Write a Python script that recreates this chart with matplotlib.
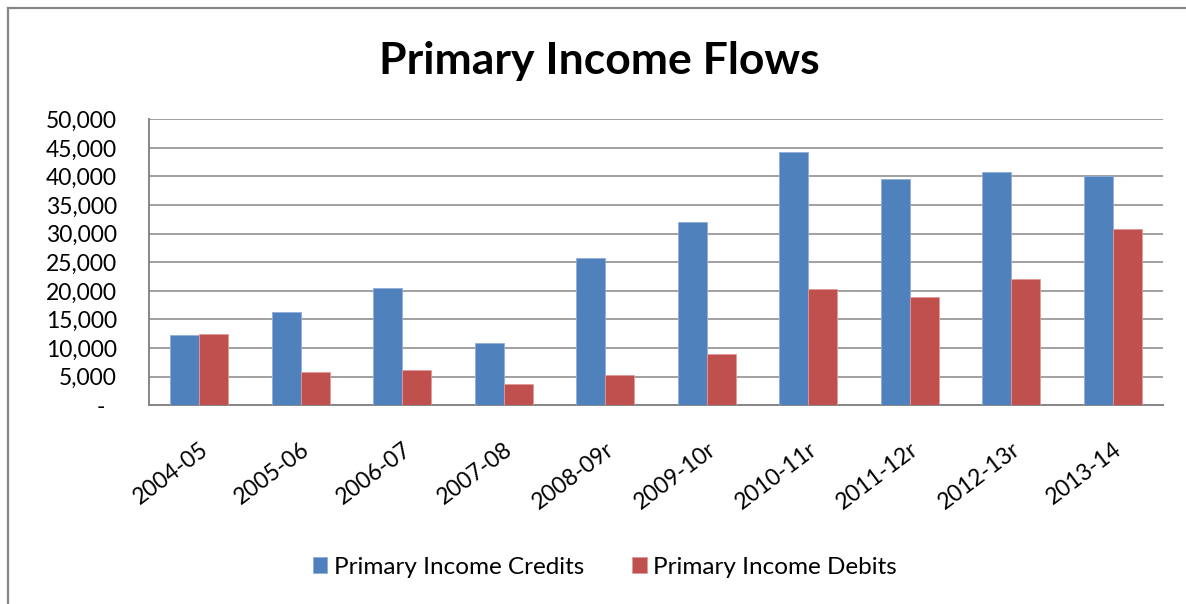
import numpy as np
import matplotlib
matplotlib.use("Agg")
import matplotlib.pyplot as plt
from matplotlib.lines import Line2D
from matplotlib.ticker import FuncFormatter
import matplotlib.transforms as mtransforms

plt.rcParams["font.family"] = ["Lato", "DejaVu Sans"]

# Primary income flows by financial year
years = ["2004-05", "2005-06", "2006-07", "2007-08", "2008-09r",
         "2009-10r", "2010-11r", "2011-12r", "2012-13r", "2013-14"]
credits = [12300, 16300, 20450, 10850, 25800, 32000, 44200, 39500, 40700, 40000]
debits = [12500, 5800, 6100, 3650, 5300, 8900, 20400, 18900, 22000, 30900]

blue = "#4F81BD"
red = "#C0504D"
grid_grey = "#868686"

fig = plt.figure(figsize=(11.86, 6.04), dpi=100)
ax = fig.add_axes([0.1254, 0.329, 0.8555, 0.4735])

x = np.arange(len(years))
w = 0.286
ax.bar(x - w / 2, credits, w, color=blue, edgecolor="#8FAEDA", linewidth=0.6,
       label="Primary Income Credits", zorder=3)
ax.bar(x + w / 2, debits, w, color=red, edgecolor="#E29A98", linewidth=0.6,
       label="Primary Income Debits", zorder=3)

ax.set_xlim(-0.5, len(years) - 0.5)
ax.set_ylim(0, 50000)
ax.set_yticks(np.arange(0, 50001, 5000))
ax.yaxis.set_major_formatter(FuncFormatter(lambda v, p: "-" if v == 0 else f"{int(v):,}"))
ax.grid(axis="y", color=grid_grey, linewidth=1.1, zorder=0)
ax.set_axisbelow(True)

for side in ["top", "right"]:
    ax.spines[side].set_visible(False)
for side in ["left", "bottom"]:
    ax.spines[side].set_color(grid_grey)
    ax.spines[side].set_linewidth(1.4)

ax.tick_params(axis="y", length=0, pad=23, labelsize=16.5)
ax.tick_params(axis="x", length=0, pad=24, labelsize=16.5)
ax.set_xticks(x)
ax.set_xticklabels(years, rotation=37, ha="right", va="top", rotation_mode="anchor")

# nudge the "-" zero label left like accounting format
zero_lbl = ax.get_yticklabels()[0]
zero_lbl.set_transform(zero_lbl.get_transform() +
                       mtransforms.ScaledTranslation(-12 / 100, 0, fig.dpi_scale_trans))

fig.text(0.505, 0.878, "Primary Income Flows", ha="center", va="baseline",
         fontsize=32, fontweight="bold")

ax.legend(loc="center", bbox_to_anchor=(0.51, 0.061), bbox_transform=fig.transFigure,
          ncol=2, frameon=False, fontsize=17.5, handlelength=0.6, handleheight=0.6,
          handletextpad=0.25, columnspacing=2.0)

# chart border along top and left
fig.add_artist(Line2D([0.0067, 1.0], [0.987, 0.987], transform=fig.transFigure,
                      color=grid_grey, linewidth=1.6))
fig.add_artist(Line2D([0.0067, 0.0067], [0.0, 0.987], transform=fig.transFigure,
                      color=grid_grey, linewidth=1.6))

fig.savefig("out.png", dpi=100)
